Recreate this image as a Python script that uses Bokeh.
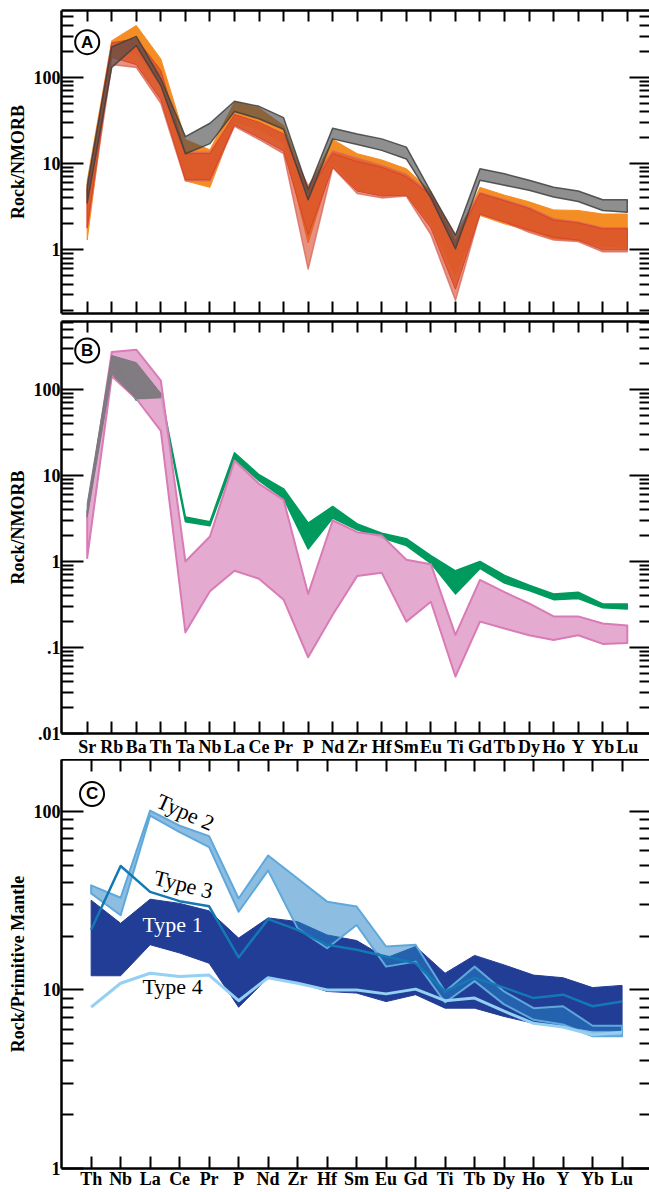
from bokeh.plotting import figure
from bokeh.layouts import column
from bokeh.models import FixedTicker, LogAxis, LinearAxis, Range1d, Label, CustomJSTickFormatter
from bokeh.embed import file_html
from bokeh.resources import INLINE

# ---------------- data ----------------
ELEM_AB = ["Sr", "Rb", "Ba", "Th", "Ta", "Nb", "La", "Ce", "Pr", "P", "Nd", "Zr", "Hf",
           "Sm", "Eu", "Ti", "Gd", "Tb", "Dy", "Ho", "Y", "Yb", "Lu"]
ELEM_C = ["Th", "Nb", "La", "Ce", "Pr", "P", "Nd", "Zr", "Hf", "Sm", "Eu", "Gd", "Ti",
          "Tb", "Dy", "Ho", "Y", "Yb", "Lu"]

# Panel A (Rock/NMORB)
A_GRAY_LO = [3.5, 130, 233, 80, 13, 17, 40, 33, 25, 3.8, 19.3, 16.6, 14.2, 11.3, 4.0, 1.03, 6.4, 5.6, 4.9, 4.1, 3.63, 2.86, 2.73]
A_GRAY_HI = [5.5, 225, 297, 96, 20.5, 29.3, 52.7, 46, 34, 5.0, 25.7, 22, 19.3, 15.5, 4.7, 1.47, 8.7, 7.6, 6.4, 5.3, 4.8, 3.8, 3.8]
A_ORANGE_LO = [1.3, 200, 190, 80, 6.3, 5.3, 30, 25, 17, 1.2, 10, 5.0, 4.3, 4.5, 2.0, 0.5, 2.5, 2.0, 1.67, 1.34, 1.28, 1.1, 1.07]
A_ORANGE_HI = [6.3, 265, 398, 163, 19.0, 14.4, 51.5, 44, 27.6, 5.2, 19, 13, 11, 8.7, 4.8, 1.3, 5.3, 4.3, 3.6, 2.9, 2.86, 2.6, 2.6]
A_SALMON_LO = [1.8, 140, 130, 50, 6.3, 6.3, 27, 19, 13, 0.6, 9, 4.5, 4.0, 4.2, 1.5, 0.26, 2.6, 2.1, 1.6, 1.3, 1.25, 0.95, 0.95]
A_SALMON_HI = [5.0, 250, 270, 110, 13.5, 13.5, 35, 29, 21, 5.5, 14, 11.5, 9.5, 7.5, 4.5, 1.5, 4.6, 3.8, 3.1, 2.3, 2.1, 1.8, 1.8]
A_RED_LO = [1.8, 170, 140, 55, 6.5, 6.5, 28, 20, 14, 1.5, 9, 4.8, 4.2, 4.3, 1.8, 0.35, 2.6, 2.1, 1.7, 1.4, 1.3, 1.0, 1.0]
A_RED_HI = [5.0, 250, 280, 120, 13, 13, 37, 30, 22, 4.5, 13, 10.5, 9, 7, 4.3, 1.2, 4.5, 3.7, 3.0, 2.2, 2.05, 1.75, 1.75]

# Panel B (Rock/NMORB)
B_GREEN_LO = [3.2, 200, 75, 82, 2.9, 2.6, 15.6, 8.7, 5.4, 1.4, 3.2, 2.33, 1.88, 1.53, 0.95, 0.42, 0.83, 0.56, 0.46, 0.36, 0.37, 0.29, 0.28]
B_GREEN_HI = [3.8, 240, 95, 92, 3.3, 2.9, 18.4, 10.2, 7.0, 2.8, 4.36, 2.74, 2.13, 1.84, 1.17, 0.78, 1.0, 0.69, 0.53, 0.42, 0.44, 0.32, 0.32]
B_PINK_LO = [1.1, 142, 78, 33, 0.15, 0.45, 0.78, 0.63, 0.36, 0.077, 0.24, 0.68, 0.74, 0.2, 0.34, 0.046, 0.2, 0.166, 0.139, 0.122, 0.139, 0.11, 0.113]
B_PINK_HI = [3.5, 272, 290, 127, 1.0, 1.95, 14.9, 8.0, 5.2, 0.42, 3.0, 2.19, 2.0, 1.05, 0.93, 0.14, 0.61, 0.44, 0.325, 0.23, 0.23, 0.19, 0.18]
B_GRAY_LO = [3.3, 150, 78, 80]      # Sr, Rb, Ba, Th
B_GRAY_HI = [4.7, 248, 205, 90]

# Panel C (Rock/Primitive Mantle)
C_TYPE1_LO = [12.0, 12.0, 17.9, 16.1, 14.1, 8.0, 11.7, 11.1, 9.8, 9.6, 8.6, 9.4, 7.9, 7.9, 7.1, 6.5, 6.3, 5.9, 5.9]
C_TYPE1_HI = [31.8, 23.6, 32.2, 30.5, 27.7, 19.5, 25.3, 24.1, 20.3, 18.9, 15.1, 17.5, 12.4, 15.6, 13.8, 12.1, 11.7, 10.3, 10.6]
C_TYPE2_LO = [34.7, 26.2, 94.6, 76.4, 63, 27.4, 46.7, 22.1, 17.1, 23.1, 13.5, 14.4, 8.5, 11.2, 8.3, 6.8, 6.4, 5.5, 5.5]
C_TYPE2_HI = [38.5, 32.8, 101, 83, 72.6, 32.5, 56.6, 42, 31.2, 29.3, 17.5, 17.9, 9.8, 13.5, 9.8, 7.9, 8.1, 6.3, 6.3]
C_TYPE3 = [21.7, 49.4, 35.4, 31.4, 29.4, 15.2, 24.9, 21.7, 17.9, 16.8, 15.4, 14.1, 9.8, 11.7, 10.3, 9.0, 9.4, 8.1, 8.6]
C_TYPE4 = [8.0, 10.9, 12.4, 11.9, 12.1, 8.7, 11.7, 10.9, 10.0, 10.0, 9.5, 10.1, 8.7, 9.0, 7.6, 6.5, 6.2, 5.6, 5.8]

# annotations: (x index, y value, text)
PANEL_LETTERS = [(0.0, 255, "A"), (0.0, 284, "B"), (0.03, 125, "C")]
TYPE_LABELS = [(3.2, 99, "Type 2", -0.42, "black"),
               (3.13, 39, "Type 3", -0.25, "black"),
               (2.76, 23.3, "Type 1", 0.0, "white"),
               (2.76, 10.4, "Type 4", 0.0, "black")]

SERIF = "Liberation Serif"
SANS = "Liberation Sans"
W = 649


def log_ticks(lo, hi):
    majors = [10.0 ** k for k in range(-3, 4) if lo <= 10.0 ** k <= hi * 1.0001]
    minors = [round(m * 10.0 ** k, 6) for k in range(-3, 4) for m in range(2, 10)
              if lo <= m * 10.0 ** k <= hi]
    return majors, minors


def yfmt():
    return CustomJSTickFormatter(code="""
        if (tick >= 1) { return Math.round(tick).toString(); }
        return tick.toString().replace(/^0/, '');
    """)


def style_axis(ax, tin, minor_in, show_labels, standoff, size="18px"):
    ax.axis_line_width = 2.5
    ax.axis_line_color = "black"
    ax.major_tick_in = tin
    ax.major_tick_out = 0
    ax.minor_tick_in = minor_in
    ax.minor_tick_out = 0
    ax.major_tick_line_width = 2
    ax.minor_tick_line_width = 2
    ax.major_tick_line_color = "black"
    ax.minor_tick_line_color = "black"
    ax.major_label_standoff = standoff
    if show_labels:
        ax.major_label_text_font = SERIF
        ax.major_label_text_font_style = "bold"
        ax.major_label_text_font_size = size
        ax.major_label_text_color = "black"
    else:
        ax.major_label_text_font_size = "1px"
        ax.major_label_text_color = None


def make_panel(elems, x_lo, x_hi, y_lo, y_hi, height, b_top, b_bottom, ylabel,
               show_x_labels, x_standoff, top_tick, bottom_tick):
    p = figure(width=W, height=height, x_range=Range1d(x_lo, x_hi), y_range=Range1d(y_lo, y_hi),
               y_axis_type="log", output_backend="svg", toolbar_location=None,
               min_border_left=61, min_border_right=0, min_border_top=b_top,
               min_border_bottom=b_bottom)
    p.outline_line_color = None
    p.xgrid.visible = False
    p.ygrid.visible = False
    majors, minors = log_ticks(y_lo, y_hi)
    xt = list(range(len(elems)))
    names = {i: e for i, e in enumerate(elems)}

    # left axis
    ya = p.yaxis[0]
    ya.ticker = FixedTicker(ticks=majors, minor_ticks=minors)
    ya.formatter = yfmt()
    style_axis(ya, 22, 12, True, 1)
    ya.axis_label = ylabel
    ya.axis_label_text_font = SERIF
    ya.axis_label_text_font_style = "bold"
    ya.axis_label_text_font_size = "18px"
    ya.axis_label_text_color = "black"
    ya.axis_label_standoff = 3

    # right axis
    ra = LogAxis(ticker=FixedTicker(ticks=majors, minor_ticks=minors))
    style_axis(ra, 20, 10, False, 0)
    ra.axis_line_color = None
    p.add_layout(ra, "right")

    # bottom axis
    xa = p.xaxis[0]
    xa.ticker = FixedTicker(ticks=xt, minor_ticks=[])
    xa.major_label_overrides = names
    style_axis(xa, bottom_tick, 0, show_x_labels, x_standoff)

    # top axis
    ta = LinearAxis(ticker=FixedTicker(ticks=xt, minor_ticks=[]))
    ta.major_label_overrides = names
    style_axis(ta, top_tick, 0, False, 0)
    p.add_layout(ta, "above")
    return p


def band(p, x, lo, hi, fill, alpha, line, lw, line_alpha=1.0):
    xs = list(x) + list(x)[::-1]
    ys = list(hi) + list(lo)[::-1]
    p.patch(xs, ys, fill_color=fill, fill_alpha=alpha, line_color=line,
            line_width=lw, line_alpha=line_alpha, line_join="round")


def letter(p, x, y, t):
    p.scatter([x], [y], size=24, marker="circle", fill_color="white",
              line_color="black", line_width=2)
    p.add_layout(Label(x=x, y=y, text=t, text_font=SANS, text_font_style="bold",
                       text_font_size="17px", text_align="center", text_baseline="middle",
                       text_color="black"))


# ---------------- Panel A ----------------
xa_ = list(range(len(ELEM_AB)))
pA = make_panel(ELEM_AB, -1.047, 22.905, 0.183, 593, 317, 10, 4, "Rock/NMORB",
                False, 0, 11, 12)
band(pA, xa_, A_ORANGE_LO, A_ORANGE_HI, "#F58D25", 1.0, "#F58D25", 1)
band(pA, xa_, A_SALMON_LO, A_SALMON_HI, "#D9472B", 0.6, "#DA6A5A", 1.5, 0.8)
band(pA, xa_, A_RED_LO, A_RED_HI, "#DC5A2B", 0.9, "#D8452A", 1)
band(pA, xa_, A_GRAY_LO, A_GRAY_HI, "#4A4A4A", 0.62, "#404040", 1.5, 0.85)
letter(pA, *PANEL_LETTERS[0])

# ---------------- Panel B ----------------
pB = make_panel(ELEM_AB, -1.047, 22.905, 0.01, 617, 442, 4, 26, "Rock/NMORB",
                True, 3, 11, 12)
band(pB, xa_, B_GREEN_LO, B_GREEN_HI, "#009A5E", 1.0, "#009A5E", 1.5)
band(pB, xa_, B_PINK_LO, B_PINK_HI, "#E3A3CB", 0.92, "#D97BB6", 2)
band(pB, list(range(len(B_GRAY_LO))), B_GRAY_LO, B_GRAY_HI, "#7B787D", 0.95, "#7B787D", 1)
letter(pB, *PANEL_LETTERS[1])

# ---------------- Panel C ----------------
xc_ = list(range(len(ELEM_C)))
pC = make_panel(ELEM_C, -1.005, 18.93, 1, 195, 432, 0, 23, "Rock/Primitive Mantle",
                True, 0, 12, 12)
band(pC, xc_, C_TYPE1_LO, C_TYPE1_HI, "#213D95", 1.0, "#213D95", 1)
band(pC, xc_, C_TYPE2_LO, C_TYPE2_HI, "#2882C4", 0.53, "#5FA8DB", 2)
pC.line(xc_, C_TYPE3, line_color="#1478B5", line_width=2.5, line_join="round")
pC.line(xc_, C_TYPE4, line_color="#93D0F3", line_width=3, line_join="round")
letter(pC, *PANEL_LETTERS[2])
for (x, y, t, ang, col) in TYPE_LABELS:
    pC.add_layout(Label(x=x, y=y, text=t, angle=ang, text_font=SERIF,
                        text_font_size="22px", text_align="center",
                        text_baseline="middle", text_color=col))

layout = column(pA, pB, pC, spacing=0)
open("out.html", "w").write(file_html(layout, INLINE, title="Spider diagrams"))
